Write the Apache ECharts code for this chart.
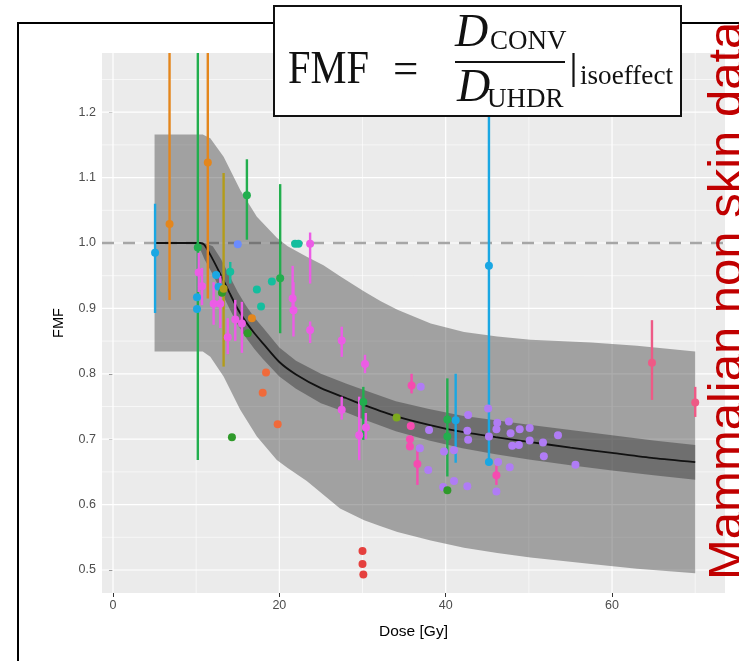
<!DOCTYPE html>
<html>
<head>
<meta charset="utf-8">
<script src="https://cdn.jsdelivr.net/npm/echarts@6/dist/echarts.min.js"></script>
<style>
  html, body { margin: 0; padding: 0; background: #ffffff; }
  #chart { width: 739px; height: 661px; }
</style>
</head>
<body>
<div id="chart"></div>
<script>
// Axis ranges and tick positions
const xMin = -1.32, xMax = 73.58;
const yMin = 0.4648, yMax = 1.2905;
const xTicks = [0, 20, 40, 60];
const xMinor = [10, 30, 50, 70];
const yTicks = [0.5, 0.6, 0.7, 0.8, 0.9, 1.0, 1.1, 1.2];
const yMinor = [0.55, 0.65, 0.75, 0.85, 0.95, 1.05, 1.15, 1.25];
const refFMF = 1.0;

// Fitted FMF curve
const fitDose = [5, 10.5, 11, 12, 13, 14, 15, 16, 17, 18, 20, 22, 25, 28, 30, 34, 38, 42, 46, 50, 55, 60, 65, 70];
const fitFMF  = [1.0, 1.0, 0.997, 0.975, 0.95, 0.924, 0.899, 0.879, 0.862, 0.847, 0.818, 0.799, 0.778, 0.763, 0.753, 0.735, 0.722, 0.711, 0.703, 0.696, 0.687, 0.679, 0.671, 0.665];

// Confidence band of the fit
const ciDose  = [10.5, 11, 12, 13, 14, 15, 16, 17, 18, 20, 22, 25, 28, 30, 34, 38, 42, 46, 50, 55, 60, 65, 70];
const ciUpper = [1.0, 1.0, 0.995, 0.975, 0.95, 0.925, 0.904, 0.886, 0.871, 0.84, 0.82, 0.8, 0.785, 0.776, 0.758, 0.746, 0.736, 0.729, 0.722, 0.714, 0.706, 0.698, 0.691];
const ciLower = [0.99, 0.975, 0.952, 0.926, 0.9, 0.875, 0.855, 0.838, 0.823, 0.796, 0.777, 0.755, 0.741, 0.731, 0.712, 0.698, 0.686, 0.677, 0.669, 0.66, 0.652, 0.645, 0.638];

// Prediction band
const piDose  = [5, 10.8, 11.7, 13.3, 15.3, 17.3, 19.7, 21, 23.3, 25.3, 27.3, 30.2, 32.2, 34.2, 38.2, 42.2, 46.2, 50.2, 57.5, 63, 70];
const piUpper = [1.166, 1.166, 1.16, 1.132, 1.081, 1.04, 1.008, 0.995, 0.979, 0.966, 0.949, 0.926, 0.911, 0.898, 0.877, 0.864, 0.857, 0.852, 0.848, 0.843, 0.834];
const piLower = [0.834, 0.834, 0.826, 0.796, 0.745, 0.704, 0.668, 0.656, 0.636, 0.615, 0.594, 0.576, 0.567, 0.558, 0.545, 0.534, 0.526, 0.519, 0.509, 0.502, 0.495];

// Study data: [dose (Gy), FMF] or [dose (Gy), FMF, lower, upper]
const studyCyan = [[5.06, 0.985, 0.893, 1.06], [10.1, 0.917], [10.1, 0.899], [12.4, 0.951], [12.7, 0.933],
                   [41.2, 0.729, 0.664, 0.80], [45.2, 0.965, 0.665, 1.206], [45.2, 0.665]];
const studyGreen = [[10.2, 0.993, 0.668, 1.45], [16.1, 1.073, 1.005, 1.128], [20.1, 0.946, 0.862, 1.09],
                    [30.1, 0.757, 0.699, 0.78], [40.2, 0.730, 0.643, 0.793], [40.2, 0.704]];
const studyDarkGreen = [[14.3, 0.703], [16.2, 0.862], [40.2, 0.622], [13.1, 0.924]];
const studyLime = [[34.1, 0.733]];
const studyOlive = [[13.3, 0.93, 0.811, 1.107]];
const studyOrange = [[6.8, 1.029, 0.913, 1.45], [11.4, 1.123, 0.915, 1.45], [16.7, 0.885]];
const studyVermilion = [[18.4, 0.802], [18.0, 0.771], [19.8, 0.723]];
const studyRed = [[30.0, 0.529], [30.0, 0.509], [30.1, 0.493]];
const studyTeal = [[21.9, 0.999], [22.3, 0.999], [19.1, 0.941], [17.3, 0.929], [17.8, 0.903], [14.1, 0.956, 0.938, 0.971]];
const studyBlue = [[15.0, 0.998]];
const studyMagenta = [[10.3, 0.955, 0.925, 0.985], [10.7, 0.934, 0.905, 0.962], [12.1, 0.907, 0.875, 0.94],
                      [12.9, 0.907, 0.87, 0.95], [13.8, 0.856, 0.83, 0.885], [14.7, 0.883, 0.85, 0.913],
                      [15.5, 0.877, 0.832, 0.91], [21.6, 0.915, 0.898, 0.965], [21.7, 0.897, 0.857, 0.94],
                      [23.7, 0.999, 0.938, 1.016], [23.7, 0.867, 0.847, 0.88], [27.5, 0.851, 0.826, 0.872],
                      [30.3, 0.815, 0.801, 0.829], [27.5, 0.745, 0.73, 0.765], [29.6, 0.706, 0.668, 0.765],
                      [30.4, 0.718, 0.70, 0.74]];
const studyPink = [[35.9, 0.782, 0.77, 0.80], [35.8, 0.72], [35.7, 0.70], [35.7, 0.689], [36.6, 0.662, 0.63, 0.69], [46.1, 0.645, 0.63, 0.66]];
const studyRose = [[64.8, 0.817, 0.76, 0.882], [70.0, 0.756, 0.734, 0.78]];
const studyPurple = [[37.0, 0.780], [38.0, 0.714], [36.9, 0.686], [37.9, 0.653], [39.8, 0.681], [39.7, 0.627],
                     [41.0, 0.636], [41.0, 0.683], [42.7, 0.737], [42.6, 0.713], [42.7, 0.699], [42.6, 0.628],
                     [45.1, 0.747], [45.2, 0.704], [46.2, 0.725], [46.1, 0.715], [47.6, 0.727], [47.8, 0.709],
                     [48.9, 0.715], [50.1, 0.717], [48.0, 0.690], [48.8, 0.691], [50.1, 0.698], [51.7, 0.695],
                     [53.5, 0.706], [51.8, 0.674], [55.6, 0.661], [46.3, 0.665], [47.7, 0.657], [46.1, 0.620]];

const studies = [
  { data: studyPurple,    color: '#B07CF5' },
  { data: studyCyan,      color: '#1AA7E3' },
  { data: studyGreen,     color: '#22AE4E' },
  { data: studyDarkGreen, color: '#2F9A2A' },
  { data: studyLime,      color: '#7DAA1E' },
  { data: studyOlive,     color: '#B39C1A' },
  { data: studyOrange,    color: '#E4861C' },
  { data: studyVermilion, color: '#F06A3A' },
  { data: studyRed,       color: '#E5403E' },
  { data: studyTeal,      color: '#14BE9E' },
  { data: studyBlue,      color: '#6B8CFF' },
  { data: studyMagenta,   color: '#EC5CE6' },
  { data: studyPink,      color: '#F64BB0' },
  { data: studyRose,      color: '#EE5A86' }
];

// White panel grid lines drawn through the axes' scales
function gridLines(values, vertical, width) {
  return {
    type: 'custom', silent: true, z: 1, clip: true,
    data: values.map(v => [v]),
    encode: vertical ? { x: 0 } : { y: 0 },
    renderItem: (params, api) => {
      const v = api.value(0);
      const a = vertical ? api.coord([v, yMin]) : api.coord([xMin, v]);
      const b = vertical ? api.coord([v, yMax]) : api.coord([xMax, v]);
      return { type: 'line', shape: { x1: a[0], y1: a[1], x2: b[0], y2: b[1] },
               style: { stroke: '#ffffff', lineWidth: width } };
    }
  };
}

// Filled ribbon between two curves
function ribbon(xs, lo, hi, fill, z) {
  return {
    type: 'custom', silent: true, z: z,
    data: [[xs[0], lo[0]]],
    renderItem: (params, api) => {
      const pts = [];
      for (let i = 0; i < xs.length; i++) pts.push(api.coord([xs[i], hi[i]]));
      for (let i = xs.length - 1; i >= 0; i--) pts.push(api.coord([xs[i], lo[i]]));
      return { type: 'polygon', shape: { points: pts }, style: { fill: fill } };
    }
  };
}

// Vertical range bars for studies that report an interval
function rangeBars(data, color) {
  return {
    type: 'custom', silent: true, z: 6, clip: true,
    data: data.filter(d => d.length === 4).map(d => [d[0], d[2], d[3]]),
    encode: { x: 0, y: [1, 2] },
    renderItem: (params, api) => {
      const a = api.coord([api.value(0), api.value(1)]);
      const b = api.coord([api.value(0), api.value(2)]);
      return { type: 'line', shape: { x1: a[0], y1: a[1], x2: b[0], y2: b[1] },
               style: { stroke: color, lineWidth: 2.4 } };
    }
  };
}

const series = [
  gridLines(xMinor, true, 0.6),
  gridLines(yMinor, false, 0.6),
  gridLines(xTicks, true, 1.2),
  gridLines(yTicks, false, 1.2),
  {
    type: 'line', z: 2, silent: true, symbol: 'none',
    data: [[xMin, refFMF], [xMax, refFMF]],
    lineStyle: { color: '#A6A6A6', width: 2.6, type: [12, 9] }
  },
  ribbon(piDose, piLower, piUpper, 'rgba(51,51,51,0.4)', 3),
  ribbon(ciDose, ciLower, ciUpper, 'rgba(51,51,51,0.45)', 4),
  {
    type: 'line', z: 5, silent: true, symbol: 'none', smooth: 0.25,
    data: fitDose.map((d, i) => [d, fitFMF[i]]),
    lineStyle: { color: '#111111', width: 1.8 }
  }
];
studies.forEach(s => series.push(rangeBars(s.data, s.color)));
studies.forEach(s => series.push({
  type: 'scatter', z: 7, silent: true,
  symbol: 'circle', symbolSize: 8,
  data: s.data.map(d => [d[0], d[1]]),
  itemStyle: { color: s.color, opacity: 1 }
}));

const chart = echarts.init(document.getElementById('chart'), null, { renderer: 'canvas' });

const serif = '"Liberation Serif", "DejaVu Serif", serif';
function formulaText(str, left, baseline, size, italic, sx) {
  return {
    type: 'text', z: 101, x: left, y: baseline - 0.32 * size, scaleX: sx || 1,
    style: { text: str, x: 0, y: 0, fill: '#111111', align: 'left', verticalAlign: 'middle',
             font: (italic ? 'italic ' : '') + size + 'px ' + serif }
  };
}

chart.setOption({
  animation: false,
  backgroundColor: '#ffffff',
  grid: { left: 102, top: 53, width: 623, height: 540, show: true, backgroundColor: '#EBEBEB', borderWidth: 0 },
  xAxis: {
    type: 'value', min: xMin, max: xMax,
    axisLine: { show: false },
    splitLine: { show: false },
    axisTick: { show: true, length: 4, customValues: xTicks, lineStyle: { color: '#333333', width: 1 } },
    axisLabel: { customValues: xTicks, color: '#4D4D4D', fontSize: 12.5, margin: 6, fontFamily: '"Liberation Sans", Arial, sans-serif' },
    name: 'Dose [Gy]', nameLocation: 'middle', nameGap: 31,
    nameTextStyle: { color: '#000000', fontSize: 15.5, fontFamily: '"Liberation Sans", Arial, sans-serif' }
  },
  yAxis: {
    type: 'value', min: yMin, max: yMax,
    axisLine: { show: false },
    splitLine: { show: false },
    axisTick: { show: true, length: 4, customValues: yTicks, lineStyle: { color: '#333333', width: 1 } },
    axisLabel: { customValues: yTicks, color: '#4D4D4D', fontSize: 12.5, margin: 6,
                 fontFamily: '"Liberation Sans", Arial, sans-serif', formatter: v => v.toFixed(1) },
    name: 'FMF', nameLocation: 'middle', nameGap: 36, nameRotate: 90,
    nameTextStyle: { color: '#000000', fontSize: 14.5, fontFamily: '"Liberation Sans", Arial, sans-serif' }
  },
  series: series,
  graphic: [
    // outer frame of the figure
    { type: 'rect', z: 100, silent: true, shape: { x: 18, y: 23, width: 800, height: 700 },
      style: { fill: 'none', stroke: '#000000', lineWidth: 2 } },
    // definition box
    { type: 'rect', z: 100, silent: true, shape: { x: 274, y: 6, width: 407, height: 110 },
      style: { fill: '#ffffff', stroke: '#111111', lineWidth: 2 } },
    formulaText('FMF', 288, 86, 46, false, 0.88),
    formulaText('=', 393, 86, 45, false, 1),
    formulaText('D', 455, 49, 46, true, 1),
    formulaText('CONV', 490, 51, 27, false, 1),
    { type: 'line', z: 101, silent: true, shape: { x1: 455, y1: 62, x2: 565, y2: 62 },
      style: { stroke: '#111111', lineWidth: 2 } },
    formulaText('D', 457, 104, 46, true, 1),
    formulaText('UHDR', 487, 109, 27, false, 1),
    { type: 'line', z: 101, silent: true, shape: { x1: 573.5, y1: 53, x2: 573.5, y2: 87 },
      style: { stroke: '#111111', lineWidth: 2.2 } },
    formulaText('isoeffect', 580, 86, 28, false, 0.97),
    // side caption
    { type: 'text', z: 101, silent: true, x: 728, y: 580, rotation: Math.PI / 2,
      style: { text: 'Mammalian non skin data', x: 0, y: 0, align: 'left', verticalAlign: 'middle',
               fill: '#C00000', font: '49px "Liberation Sans", Arial, sans-serif' } }
  ]
});
</script>
</body>
</html>
